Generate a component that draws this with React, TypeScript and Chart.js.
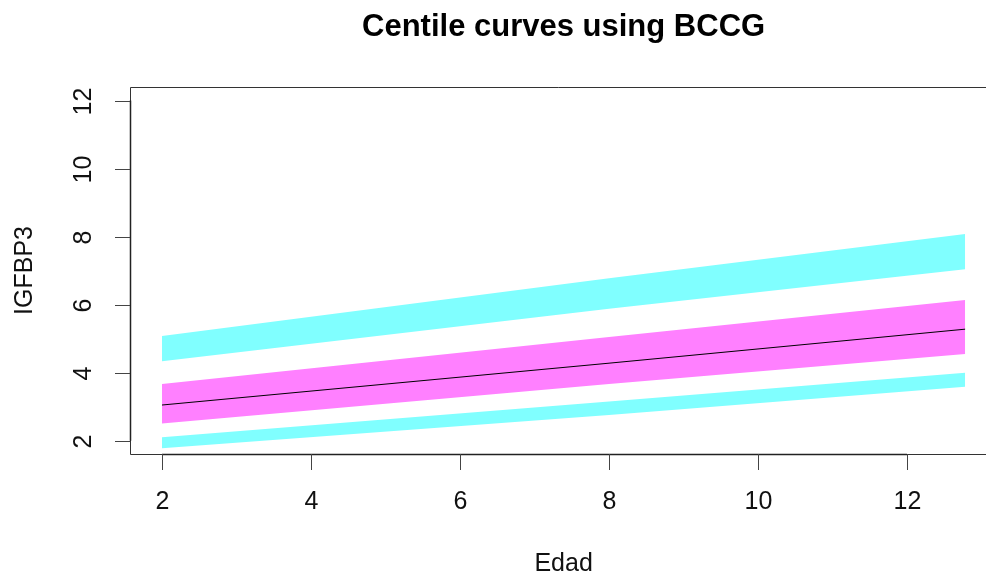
import React, { useEffect, useRef } from "react";
import { Chart, registerables } from "chart.js";

Chart.register(...registerables);

// Data
const ageX = [2, 8, 12.78];
const upperBandTop = [5.08, 6.78, 8.08];
const upperBandBottom = [4.34, 5.88, 7.04];
const midBandTop = [3.67, 5.05, 6.14];
const medianCurve = [3.05, 4.28, 5.28];
const midBandBottom = [2.51, 3.67, 4.55];
const lowerBandTop = [2.1, 3.15, 4.0];
const lowerBandBottom = [1.78, 2.76, 3.59];

const xTicks = [2, 4, 6, 8, 10, 12];
const yTicks = [2, 4, 6, 8, 10, 12];

const titleText = "Centile curves using BCCG";
const xLabel = "Edad";
const yLabel = "IGFBP3";

const CYAN = "rgb(128,255,255)";
const MAGENTA = "rgb(255,128,255)";
const FONT = '"Liberation Sans", Arial, Helvetica, sans-serif';

const toPts = (ys: number[]) => ageX.map((x, i) => ({ x, y: ys[i] }));

export default function App() {
  const ref = useRef<HTMLCanvasElement | null>(null);

  useEffect(() => {
    if (!ref.current) return;
    const band = (ys: number[], color: string | null) => ({
      data: toPts(ys),
      borderColor: "rgba(0,0,0,0)",
      borderWidth: 0,
      pointRadius: 0,
      backgroundColor: color || "rgba(0,0,0,0)",
      fill: color ? "+1" : false,
      tension: 0,
      order: 1,
    });

    const axesPlugin = {
      id: "rAxes",
      afterDraw(chart: any) {
        const ctx = chart.ctx as CanvasRenderingContext2D;
        const xs = chart.scales.x;
        const ys = chart.scales.y;
        const area = chart.chartArea;
        ctx.save();
        ctx.strokeStyle = "#333";
        ctx.lineWidth = 1;
        // box (right side runs off the picture)
        ctx.beginPath();
        ctx.moveTo(chart.width, area.top + 0.5);
        ctx.lineTo(area.left + 0.5, area.top + 0.5);
        ctx.lineTo(area.left + 0.5, area.bottom + 0.5);
        ctx.lineTo(chart.width, area.bottom + 0.5);
        ctx.stroke();

        // x axis
        ctx.lineWidth = 1.5;
        ctx.strokeStyle = "#222";
        ctx.beginPath();
        ctx.moveTo(xs.getPixelForValue(xTicks[0]), area.bottom + 0.5);
        ctx.lineTo(xs.getPixelForValue(xTicks[xTicks.length - 1]), area.bottom + 0.5);
        ctx.stroke();
        ctx.lineWidth = 1;
        ctx.strokeStyle = "#444";
        ctx.fillStyle = "#111";
        ctx.font = `25px ${FONT}`;
        ctx.textAlign = "center";
        ctx.textBaseline = "middle";
        xTicks.forEach((t) => {
          const px = Math.round(xs.getPixelForValue(t)) + 0.5;
          ctx.beginPath();
          ctx.moveTo(px, area.bottom);
          ctx.lineTo(px, area.bottom + 16);
          ctx.stroke();
          ctx.fillText(String(t), px, area.bottom + 48);
        });

        // y axis
        ctx.lineWidth = 1.5;
        ctx.strokeStyle = "#222";
        ctx.beginPath();
        ctx.moveTo(area.left + 0.5, ys.getPixelForValue(yTicks[0]));
        ctx.lineTo(area.left + 0.5, ys.getPixelForValue(yTicks[yTicks.length - 1]));
        ctx.stroke();
        ctx.lineWidth = 1;
        ctx.strokeStyle = "#444";
        yTicks.forEach((t) => {
          const py = Math.round(ys.getPixelForValue(t)) + 0.5;
          ctx.beginPath();
          ctx.moveTo(area.left - 15, py);
          ctx.lineTo(area.left, py);
          ctx.stroke();
          ctx.save();
          ctx.translate(area.left - 46, py);
          ctx.rotate(-Math.PI / 2);
          ctx.fillText(String(t), 0, 0);
          ctx.restore();
        });

        // axis titles
        const plotCenterX = (area.left + xs.getPixelForValue(13.21)) / 2;
        ctx.fillText(xLabel, plotCenterX, area.bottom + 110);
        ctx.save();
        ctx.translate(25, (area.top + area.bottom) / 2);
        ctx.rotate(-Math.PI / 2);
        ctx.fillText(yLabel, 0, 0);
        ctx.restore();

        // main title
        ctx.fillStyle = "#000";
        ctx.font = `bold 31px ${FONT}`;
        ctx.fillText(titleText, plotCenterX, 27);
        ctx.restore();
      },
    };

    const chart = new Chart(ref.current, {
      type: "line",
      data: {
        datasets: [
          band(upperBandTop, CYAN),
          band(upperBandBottom, null),
          band(midBandTop, MAGENTA),
          band(midBandBottom, null),
          band(lowerBandTop, CYAN),
          band(lowerBandBottom, null),
          {
            data: toPts(medianCurve),
            borderColor: "#000",
            borderWidth: 1,
            pointRadius: 0,
            fill: false,
            tension: 0,
            order: 0,
          },
        ] as any,
      },
      options: {
        animation: false,
        responsive: false,
        maintainAspectRatio: false,
        layout: { padding: { left: 130, top: 87, right: 0, bottom: 125 } },
        plugins: {
          legend: { display: false },
          title: { display: false },
          tooltip: { enabled: false },
        },
        scales: {
          x: { type: "linear", min: 1.5705, max: 13.06, display: false },
          y: { type: "linear", min: 1.61, max: 12.4, display: false },
        },
      },
      plugins: [axesPlugin],
    });
    return () => chart.destroy();
  }, []);

  return (
    <div
      style={{
        position: "fixed",
        left: 0,
        top: 0,
        width: 986,
        height: 579,
        background: "#fff",
      }}
    >
      <canvas ref={ref} width={986} height={579} style={{ display: "block" }} />
    </div>
  );
}
